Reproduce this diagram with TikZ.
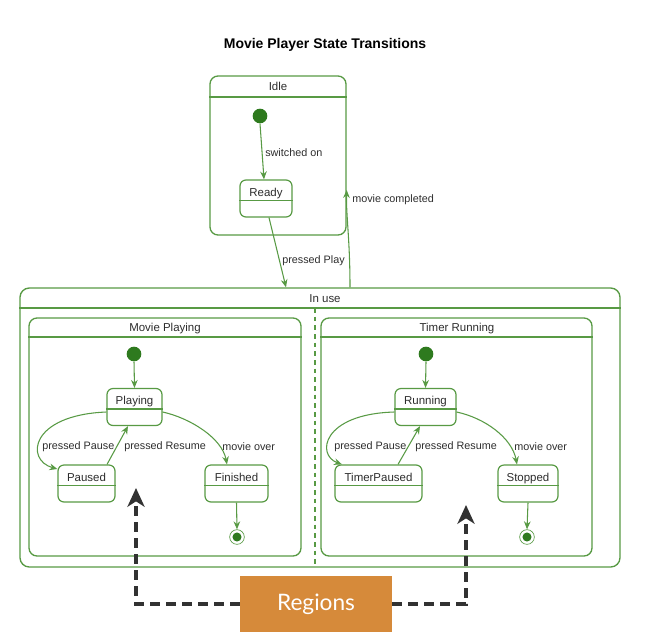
\documentclass[tikz,border=0pt]{standalone}
\usepackage{fontspec}
\setmainfont{Liberation Sans}
\newfontfamily\regfont{Lato}
\usetikzlibrary{arrows.meta}
\definecolor{lg}{RGB}{88,154,68}
\definecolor{dg}{RGB}{46,122,30}
\definecolor{tx}{RGB}{45,45,45}
\definecolor{og}{RGB}{214,138,58}
\definecolor{ak}{RGB}{50,50,50}
\begin{document}
\begin{tikzpicture}[x=0.75pt,y=-0.75pt,
  comp/.style={draw=lg, line width=1pt, rounded corners=6pt, inner sep=0pt},
  stbox/.style={draw=lg, line width=0.9pt, rounded corners=4.5pt, fill=white, inner xsep=0pt, inner ysep=0pt,
    text height=12pt, text depth=15.75pt, font=\fontsize{8.6}{10}\selectfont, text=tx},
  hdr/.style={font=\fontsize{8.6}{10}\selectfont, text=tx, inner sep=0pt},
  lbl/.style={font=\fontsize{8.1}{10}\selectfont, text=tx, inner sep=0pt, anchor=west},
  tr/.style={draw=lg, line width=0.8pt, -{Stealth[length=6pt,width=5pt,inset=2pt]}},
  init/.style={circle, fill=dg, inner sep=0pt, minimum size=11pt},
  fin/.style={circle, draw=lg, line width=0.5pt, inner sep=0pt, minimum size=11pt,
    path picture={\fill[dg] (path picture bounding box.center) circle (3.4pt);}},
  regarrow/.style={draw=ak, line width=3pt, dash pattern=on 7.5pt off 4.5pt,
    -{Stealth[length=14pt,width=12.75pt,inset=4pt]}},
  hline/.style={draw=lg, line width=1pt}
]
\useasboundingbox (0,0) rectangle (645,632);

% title
\node[font=\bfseries\fontsize{10.5}{12}\selectfont, text=black, inner sep=0pt] (title) at (325,45) {Movie Player State Transitions};

% Idle
\node[comp, minimum width=102pt, minimum height=119.25pt] (idle) at (278,155.5) {};
\draw[hline] (idle.west |- 0,97) -- (idle.east |- 0,97);
\node[hdr] (idlet) at (278,86.5) {Idle};
\node[init] (idot) at (260,116) {};
\node[stbox, minimum width=39pt] (ready) at (266,198.5) {Ready};

% In use
\node[comp, rounded corners=7pt, minimum width=450pt, minimum height=209.25pt] (inuse) at (320,427.5) {};
\draw[hline] (inuse.west |- 0,308) -- (inuse.east |- 0,308);
\node[hdr] (inuset) at (325,298.5) {In use};
\draw[lg, line width=1pt, dash pattern=on 3.5pt off 3pt] (315,308) -- (inuse.south -| 315,0);

% Movie Playing
\node[comp, minimum width=204pt, minimum height=178.5pt] (mp) at (165,437) {};
\draw[hline] (mp.west |- 0,337) -- (mp.east |- 0,337);
\node[hdr] (mpt) at (165,328.5) {Movie Playing};
\node[init] (mpdot) at (134,354) {};
\node[stbox, minimum width=41.25pt] (playing) at (134.5,407) {Playing};
\node[stbox, minimum width=42.75pt] (paused) at (86.5,483.5) {Paused};
\node[stbox, minimum width=47.25pt] (finished) at (236.5,483.5) {Finished};
\node[fin] (mpfin) at (237,537) {};

% Timer Running
\node[comp, minimum width=203.25pt, minimum height=178.5pt] (trun) at (456.5,437) {};
\draw[hline] (trun.west |- 0,337) -- (trun.east |- 0,337);
\node[hdr] (trt) at (457,328.5) {Timer Running};
\node[init] (trdot) at (426,354) {};
\node[stbox, minimum width=45.75pt] (running) at (425.5,407) {Running};
\node[stbox, minimum width=65.25pt] (tpaused) at (378.5,483.5) {TimerPaused};
\node[stbox, minimum width=45pt] (stopped) at (528,483.5) {Stopped};
\node[fin] (trfin) at (527,537) {};

% dividers of states
\foreach \n in {ready,playing,paused,finished,running,tpaused,stopped}
  \draw[lg, line width=0.9pt] ([yshift=-15.75pt]\n.north west) -- ([yshift=-15.75pt]\n.north east);

% Idle transitions
\draw[tr] (idot.south) -- ([xshift=-1.5pt]ready.north);
\node[lbl] (l1) at (265,153) {switched on};
\draw[tr] ([xshift=2.25pt]ready.south) -- (inuse.north -| 286,0);
\node[lbl] (l2) at (282,260.5) {pressed Play};
\draw[tr] (inuse.north -| 350,0) .. controls (350,240) and (346,215) .. (idle.east |- 0,190);
\node[lbl] (l3) at (352,200) {movie completed};

% Movie Playing transitions
\draw[tr] (mpdot.south) -- (playing.north);
\draw[tr] (playing.west |- 0,412) .. controls (30,415) and (25,460) .. (paused.north west |- 58,469);
\node[lbl] (l4) at (42,447) {pressed Pause};
\draw[tr] (paused.north -| 107,0) -- (playing.south -| 128,0);
\node[lbl] (l5) at (124,447) {pressed Resume};
\draw[tr] (playing.east |- 0,412) .. controls (190,418) and (222,438) .. (finished.north -| 227,0);
\node[lbl] (l6) at (222,447) {movie over};
\draw[tr] (finished.south) -- (mpfin.north);

% Timer Running transitions
\draw[tr] (trdot.south) -- (running.north);
\draw[tr] (running.west |- 0,412) .. controls (322,414) and (316,455) .. (tpaused.north -| 342,0);
\node[lbl] (l7) at (334,447) {pressed Pause};
\draw[tr] (tpaused.north -| 398,0) -- (running.south -| 420,0);
\node[lbl] (l8) at (415,447) {pressed Resume};
\draw[tr] (running.east |- 0,412) .. controls (485,418) and (512,438) .. (stopped.north -| 517,0);
\node[lbl] (l9) at (514,447) {movie over};
\draw[tr] (stopped.south) -- (trfin.north);

% Regions callout
\node[fill=og, minimum width=114pt, minimum height=42pt, inner sep=0pt, text=white,
  font=\regfont\fontsize{17}{20}\selectfont] (regions) at (316,604) {Regions};
\coordinate (ra) at (136,488);
\coordinate (rb) at (466,505);
\draw[regarrow] (regions.west) -| (ra);
\draw[regarrow] (regions.east) -| (rb);
\end{tikzpicture}
\end{document}
